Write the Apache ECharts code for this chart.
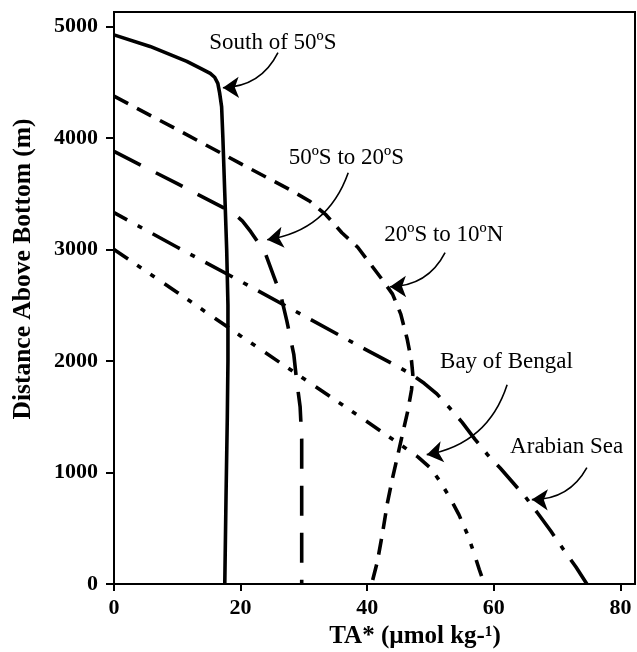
<!DOCTYPE html>
<html>
<head>
<meta charset="utf-8">
<title>TA* profiles</title>
<script src="https://cdn.jsdelivr.net/npm/echarts@6/dist/echarts.min.js"></script>
<style>
  html, body { margin: 0; padding: 0; background: #fff; }
  #chart { width: 637px; height: 652px; }
</style>
</head>
<body>
<div id="chart"></div>
<script>
// TA* (µmol kg-1) versus distance above bottom (m), one profile per region: [TA*, height]
const southOf50S = [[0,4925],[5.7,4821],[11.5,4687],[13.6,4627],[15.2,4580],[15.9,4545],[16.4,4490],[16.7,4400],[17.0,4280],[17.2,4000],[17.5,3500],[17.8,3000],[18.0,2500],[18.0,2000],[17.9,1500],[17.7,800],[17.5,0]];
const s50to20S = [[0,3880],[10,3590],[18.8,3330],[20.3,3255],[21.6,3160],[22.8,3060],[24,2950],[25.3,2750],[26.3,2600],[27.3,2360],[28.4,2060],[28.8,1850],[29.4,1590],[29.65,1300],[29.65,0]];
const s20to10N = [[0,4375],[10,4075],[20,3770],[28,3530],[31,3430],[33.5,3310],[36,3150],[38.5,3020],[40.5,2870],[42.5,2720],[44,2600],[45.3,2420],[46.3,2200],[47,2000],[47.2,1880],[47.0,1740],[46.4,1550],[45.6,1350],[44.8,1150],[44.0,950],[43.2,730],[42.4,450],[41.6,200],[40.7,0]];
const bayOfBengal = [[0,3000],[10,2615],[20,2225],[30,1840],[40,1455],[46,1220],[48,1140],[50,1040],[51.5,920],[53,780],[54.5,620],[55.8,450],[56.8,290],[57.7,130],[58.5,0]];
const arabianSea = [[0,3330],[10,3020],[20,2715],[30,2405],[40,2095],[45,1945],[47,1880],[49,1800],[51,1705],[53,1580],[55,1450],[57,1300],[59,1160],[61,1040],[63,910],[65,780],[67,630],[69,475],[71,310],[73,150],[74.7,0]];

// Axis ticks
const xTicks = [0, 20, 40, 60, 80];
const yTicks = [0, 1000, 2000, 3000, 4000, 5000];

// Region labels: name, label centre, arrow start and arrow tip, in data units
const labelNames = ['South of 50ºS', '50ºS to 20ºS', '20ºS to 10ºN', 'Bay of Bengal', 'Arabian Sea'];
const labelAt    = [[25.1,4855], [36.7,3823], [52.1,3133], [62.0,1994], [71.5,1232]];
const arrowFrom  = [[25.9,4765], [37.0,3689], [52.3,2971], [62.1,1788], [74.7,1043]];
const arrowTo    = [[17.2,4451], [24.2,3088], [43.6,2666], [49.4,1160], [66.0,757]];

const serif = "'Liberation Serif', 'Times New Roman', serif";

function profile(name, data, dash, offset) {
  return {
    name: name,
    type: 'line',
    data: data,
    showSymbol: false,
    symbol: 'none',
    smooth: false,
    silent: true,
    lineStyle: { color: '#000', width: 3.6, type: dash, dashOffset: offset || 0, cap: 'butt', join: 'round' },
    z: 3
  };
}

const chart = echarts.init(document.getElementById('chart'), null, { renderer: 'canvas' });

chart.setOption({
  animation: false,
  backgroundColor: '#fff',
  grid: {
    left: 114, right: 2, top: 12, bottom: 68,
    show: true, borderColor: '#000', borderWidth: 2,
    outerBoundsMode: 'none'
  },
  xAxis: {
    type: 'value',
    min: 0, max: 82.3, interval: 20,
    splitLine: { show: false },
    axisLine: { show: true, onZero: false, lineStyle: { color: '#000', width: 2 } },
    axisTick: { show: true, inside: false, length: 7, customValues: xTicks, lineStyle: { color: '#000', width: 2 } },
    axisLabel: {
      customValues: xTicks,
      formatter: (v) => String(v),
      margin: 13,
      color: '#000', fontFamily: serif, fontWeight: 'bold', fontSize: 22
    }
  },
  yAxis: {
    type: 'value',
    min: 0, max: 5130, interval: 1000,
    splitLine: { show: false },
    axisLine: { show: true, onZero: false, lineStyle: { color: '#000', width: 2 } },
    axisTick: { show: true, inside: false, length: 8, customValues: yTicks, lineStyle: { color: '#000', width: 2 } },
    axisLabel: {
      customValues: yTicks,
      formatter: (v) => String(v),
      margin: 16,
      color: '#000', fontFamily: serif, fontWeight: 'bold', fontSize: 22
    }
  },
  series: [
    profile('South of 50ºS', southOf50S, 'solid'),
    profile('50ºS to 20ºS', s50to20S, [30, 17]),
    profile('20ºS to 10ºN', s20to10N, [16, 10]),
    profile('Arabian Sea', arabianSea, [31, 12, 5, 12], 16),
    profile('Bay of Bengal', bayOfBengal, [17, 11, 5, 11, 5, 12]),
    {
      // curved pointer arrows from each label to its profile
      name: 'arrows',
      type: 'lines',
      coordinateSystem: 'cartesian2d',
      silent: true,
      symbol: ['none', 'arrow'],
      symbolSize: [12, 16],
      lineStyle: { color: '#000', width: 1.6, type: 'solid', curveness: 0.3, opacity: 1 },
      data: arrowFrom.map((p, i) => ({ coords: [p, arrowTo[i]] })),
      z: 4
    },
    {
      name: 'labels',
      type: 'scatter',
      symbolSize: 0,
      silent: true,
      itemStyle: { color: 'rgba(0,0,0,0)', opacity: 1 },
      data: labelNames.map((n, i) => ({ name: n, value: labelAt[i] })),
      label: {
        show: true,
        position: 'inside',
        formatter: '{b}',
        color: '#000',
        opacity: 1,
        textBorderWidth: 0,
        fontFamily: serif,
        fontSize: 23
      },
      z: 5
    }
  ],
  graphic: [
    {
      type: 'text',
      x: 415, y: 637,
      silent: true,
      style: {
        text: 'TA* (µmol kg-¹)',
        fill: '#000',
        font: "bold 25px 'Liberation Serif', 'Times New Roman', serif",
        textAlign: 'center',
        textVerticalAlign: 'middle'
      }
    },
    {
      type: 'text',
      x: 23, y: 269,
      rotation: Math.PI / 2,
      silent: true,
      style: {
        text: 'Distance Above Bottom (m)',
        fill: '#000',
        font: "bold 25.5px 'Liberation Serif', 'Times New Roman', serif",
        textAlign: 'center',
        textVerticalAlign: 'middle'
      }
    }
  ]
});
</script>
</body>
</html>
